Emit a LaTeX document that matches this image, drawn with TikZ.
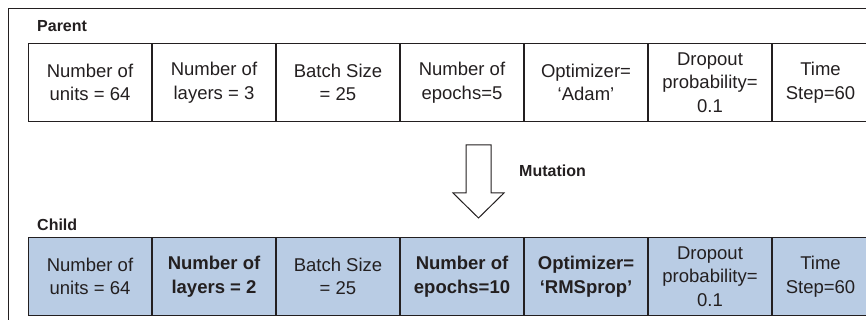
\documentclass[tikz,border=0pt]{standalone}
\usepackage{fontspec}
\setmainfont{Liberation Sans}
\definecolor{ink}{HTML}{231F20}
\definecolor{childfill}{HTML}{B9CCE4}
\begin{document}
\begin{tikzpicture}[x=1pt,y=-1pt,
  cell/.style={draw=ink, line width=1pt, minimum width=123pt, minimum height=78pt,
    inner sep=0pt, anchor=north west, align=center, text=ink,
    font=\fontsize{18.5}{23.5}\selectfont},
  lastcell/.style={cell, minimum width=96pt},
  childcell/.style={fill=childfill},
  hl/.style={font=\fontsize{18.5}{23.5}\selectfont\bfseries},
  tag/.style={anchor=west, inner sep=0pt, text=ink, font=\fontsize{16}{18}\selectfont\bfseries}]
\useasboundingbox (0,0) rectangle (866,320);
% outer frame, open to the right and bottom
\draw[ink, line width=1pt] (8,320) |- (866,9);

\node[tag] (ptag) at (37,26) {Parent};
\node[tag] (ctag) at (37,225) {Child};

% parent row
\node[cell] (p1) at (28,43) {Number of\\units = 64};
\node[cell] (p2) at (p1.north east) {Number of\\layers = 3};
\node[cell] (p3) at (p2.north east) {Batch Size\\= 25};
\node[cell] (p4) at (p3.north east) {Number of\\epochs=5};
\node[cell] (p5) at (p4.north east) {Optimizer=\\‘Adam’};
\node[cell] (p6) at (p5.north east) {Dropout\\probability=\\0.1};
\node[lastcell] (p7) at (p6.north east) {Time\\Step=60};
\draw[ink, line width=1pt] (p7.north east) -- ++(4,0) (p7.south east) -- ++(4,0);

% mutation arrow
\coordinate (atip) at (478.5,218);
\draw[ink, line width=1pt, fill=white, line join=miter]
  (466,145) -- (491,145) -- (491,193) -- (504,193) -- (atip)
  -- (453,193) -- (466,193) -- cycle;
\node[tag] (mut) at (519,171) {Mutation};

% child row
\node[cell, childcell] (c1) at (28,237) {Number of\\units = 64};
\node[cell, childcell, hl] (c2) at (c1.north east) {Number of\\layers = 2};
\node[cell, childcell] (c3) at (c2.north east) {Batch Size\\= 25};
\node[cell, childcell, hl] (c4) at (c3.north east) {Number of\\epochs=10};
\node[cell, childcell, hl] (c5) at (c4.north east) {Optimizer=\\‘RMSprop’};
\node[cell, childcell] (c6) at (c5.north east) {Dropout\\probability=\\0.1};
\node[lastcell, childcell] (c7) at (c6.north east) {Time\\Step=60};
\draw[ink, line width=1pt] (c7.north east) -- ++(4,0) (c7.south east) -- ++(4,0);
\end{tikzpicture}
\end{document}
